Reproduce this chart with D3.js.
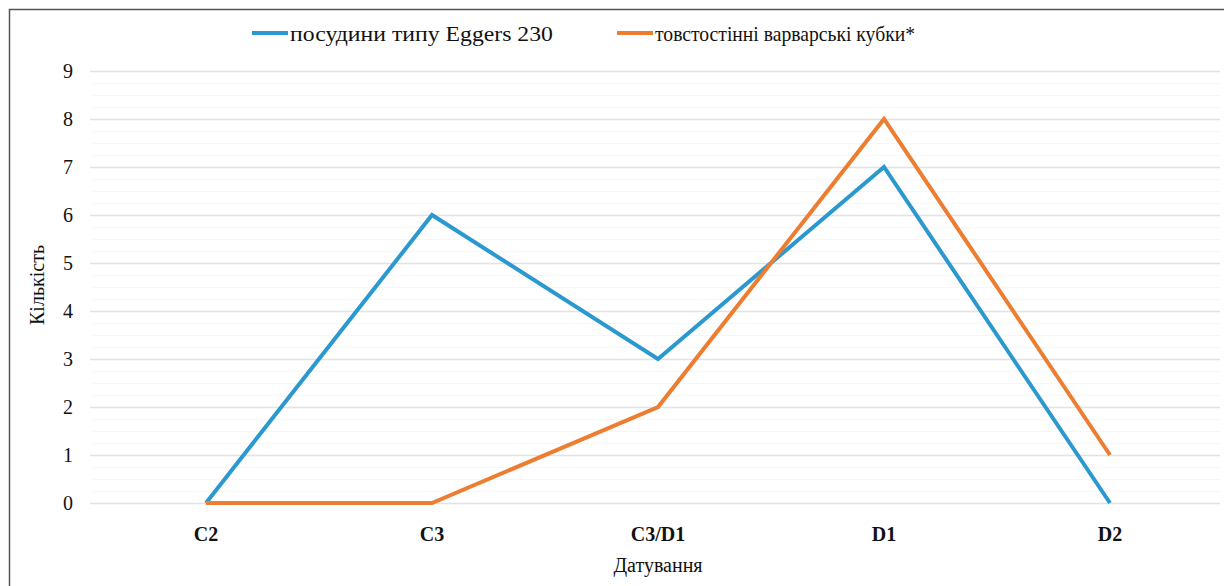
<!DOCTYPE html>
<html>
<head>
<meta charset="utf-8">
<script src="https://cdn.jsdelivr.net/npm/d3@7"></script>
<style>
  body { margin: 0; background: #fff; }
</style>
</head>
<body>
<svg id="chart" width="1224" height="586" font-family="Liberation Serif"></svg>
<script>
let categories = ["C2", "C3", "C3/D1", "D1", "D2"];
let eggers = [0, 6, 3, 7, 0];
let kubky = [0, 0, 2, 8, 1];
let seriesNames = ["посудини типу Eggers 230", "товстостінні варварські кубки*"];
let yTicks = [0, 1, 2, 3, 4, 5, 6, 7, 8, 9];

let colors = ["#2b98cf", "#ed7d31"];
let width = 1224, height = 586;
let font = "Liberation Serif";

let svg = d3.select("#chart");

// outer frame
svg.append("rect")
  .attr("x", 9.5).attr("y", 9.5)
  .attr("width", width + 10).attr("height", height + 10)
  .attr("fill", "#fff")
  .attr("stroke", "#555")
  .attr("stroke-width", 1.5);

let scaleX = d3.scaleBand().domain(categories).range([93, 1223]);
let scaleY = d3.scaleLinear().domain([0, 9]).range([503, 71]);

// faint minor grid
let minor = d3.range(0, 9, 0.25).filter(d => d % 1 !== 0);
svg.append("g").selectAll("line").data(minor).join("line")
  .attr("x1", 93).attr("x2", 1220)
  .attr("y1", d => scaleY(d) + 0.5).attr("y2", d => scaleY(d) + 0.5)
  .attr("stroke", "#f6f6f6").attr("stroke-width", 1);

// main grid
svg.append("g").selectAll("line").data(yTicks).join("line")
  .attr("x1", 90).attr("x2", 1220)
  .attr("y1", d => scaleY(d) + 0.5).attr("y2", d => scaleY(d) + 0.5)
  .attr("stroke", "#e2e2e2").attr("stroke-width", 1.5);

// y tick labels
svg.append("g").selectAll("text").data(yTicks).join("text")
  .attr("x", 68).attr("y", d => scaleY(d))
  .attr("dy", "0.35em")
  .attr("text-anchor", "middle")
  .attr("font-family", font)
  .attr("font-size", 20)
  .attr("fill", "#111")
  .text(d => d);

// x tick labels
svg.append("g").selectAll("text").data(categories).join("text")
  .attr("x", d => scaleX(d) + scaleX.bandwidth() / 2)
  .attr("y", 541)
  .attr("text-anchor", "middle")
  .attr("font-family", font)
  .attr("font-size", 20)
  .attr("font-weight", "bold")
  .attr("fill", "#111")
  .text(d => d);

// axis titles
svg.append("text")
  .attr("x", 658).attr("y", 572)
  .attr("text-anchor", "middle")
  .attr("font-family", font)
  .attr("font-size", 20)
  .attr("fill", "#111")
  .text("Датування");

svg.append("text")
  .attr("transform", "translate(44, 285) rotate(-90)")
  .attr("text-anchor", "middle")
  .attr("font-family", font)
  .attr("font-size", 20)
  .attr("fill", "#111")
  .text("Кількість");

// lines
let line = d3.line()
  .x((d, i) => scaleX(categories[i]) + scaleX.bandwidth() / 2)
  .y(d => scaleY(d));

[eggers, kubky].forEach((s, i) => {
  svg.append("path")
    .datum(s)
    .attr("fill", "none")
    .attr("stroke", colors[i])
    .attr("stroke-width", 4)
    .attr("stroke-linejoin", "miter")
    .attr("d", line);
});

// legend
let legendX = [252, 617];
let legendW = [263, 260];
let legend = svg.append("g").selectAll("g").data(seriesNames).join("g")
  .attr("transform", (d, i) => `translate(${legendX[i]}, 33)`);
legend.append("line")
  .attr("x1", 0).attr("x2", 36)
  .attr("stroke", (d, i) => colors[i])
  .attr("stroke-width", 4);
legend.append("text")
  .attr("x", 38).attr("dy", "0.35em")
  .attr("font-family", font)
  .attr("font-size", 22)
  .attr("textLength", (d, i) => legendW[i])
  .attr("lengthAdjust", "spacingAndGlyphs")
  .attr("fill", "#111")
  .text(d => d);
</script>
</body>
</html>
